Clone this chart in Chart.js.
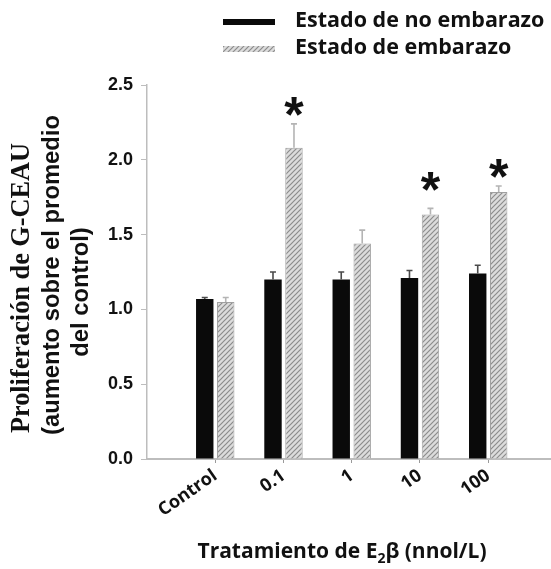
<!DOCTYPE html>
<html>
<head>
<meta charset="utf-8">
<script src="https://cdn.jsdelivr.net/npm/chart.js@4"></script>
<style>
  html, body { margin: 0; padding: 0; background: #fff; overflow: hidden; }
  #wrap { width: 551px; height: 569px; }
</style>
</head>
<body>
<div id="wrap"><canvas id="chart" width="551" height="569"></canvas></div>
<script>
'use strict';

// data
const categories = ['Control', '0.1', '1', '10', '100'];
const seriesNames = ['Estado de no embarazo', 'Estado de embarazo'];
const noPregnant = [1.07, 1.20, 1.20, 1.21, 1.24];
const noPregnantErr = [0.01, 0.05, 0.05, 0.05, 0.055];
const pregnant = [1.05, 2.08, 1.44, 1.635, 1.785];
const pregnantErr = [0.03, 0.16, 0.09, 0.04, 0.04];
// where the significance stars sit (y value), null = none
const starLevel = [null, 2.35, null, 1.85, 1.94];
const yTicks = [0, 0.5, 1.0, 1.5, 2.0, 2.5];

const SANS = '"Liberation Sans", Arial, sans-serif';
const SERIF = '"Liberation Serif", "Times New Roman", serif';
const OPEN = '"Open Sans", "Noto Sans", sans-serif';

function hatchPattern() {
  const s = 5;
  const c = document.createElement('canvas');
  c.width = s; c.height = s;
  const g = c.getContext('2d');
  g.fillStyle = '#dcdcdc';
  g.fillRect(0, 0, s, s);
  g.strokeStyle = '#8c8c8c';
  g.lineWidth = 1.2;
  g.beginPath();
  g.moveTo(-1, s + 1); g.lineTo(s + 1, -1);
  g.moveTo(-1, 1); g.lineTo(1, -1);
  g.moveTo(s - 1, s + 1); g.lineTo(s + 1, s - 1);
  g.stroke();
  return g.createPattern(c, 'repeat');
}

const hatch = hatchPattern();
const errs = [noPregnantErr, pregnantErr];
const errColors = ['#4a4a4a', '#b4b4b4'];

const errorBars = {
  id: 'errorBars',
  afterDatasetsDraw(chart) {
    const ctx = chart.ctx;
    const y = chart.scales.y;
    chart.data.datasets.forEach((ds, i) => {
      const meta = chart.getDatasetMeta(i);
      meta.data.forEach((bar, j) => {
        const top = y.getPixelForValue(ds.data[j].y + errs[i][j]);
        ctx.save();
        ctx.strokeStyle = errColors[i];
        ctx.lineWidth = 1.6;
        ctx.beginPath();
        ctx.moveTo(bar.x, bar.y);
        ctx.lineTo(bar.x, top);
        ctx.moveTo(bar.x - 3, top);
        ctx.lineTo(bar.x + 3, top);
        ctx.stroke();
        if (i === 1 && starLevel[j] != null) {
          ctx.fillStyle = '#111';
          ctx.font = 'bold 50px ' + SANS;
          ctx.textAlign = 'center';
          ctx.textBaseline = 'alphabetic';
          ctx.fillText('*', bar.x, y.getPixelForValue(starLevel[j]) + 25);
        }
        ctx.restore();
      });
    });
  }
};

const decorations = {
  id: 'decorations',
  afterDraw(chart) {
    const ctx = chart.ctx;
    ctx.save();
    // legend
    const fills = ['#0a0a0a', hatch];
    const rowsY = [22, 49];
    ctx.font = 'bold 21.5px ' + OPEN;
    ctx.textBaseline = 'middle';
    ctx.textAlign = 'left';
    seriesNames.forEach((name, i) => {
      ctx.fillStyle = fills[i];
      ctx.fillRect(223, rowsY[i] - 3, 52, 6);
      ctx.fillStyle = '#111';
      ctx.fillText(name, 295, rowsY[i] - 1);
    });

    // y title
    const lines = [
      { t: 'Proliferación de G-CEAU', f: 'bold 26.3px ' + SERIF, x: 22, y: 288 },
      { t: '(aumento sobre el promedio', f: 'bold 23.8px ' + SANS, x: 52, y: 275 },
      { t: 'del control)', f: 'bold 23.8px ' + SANS, x: 81, y: 292 },
    ];
    lines.forEach((l) => {
      ctx.save();
      ctx.translate(l.x, l.y);
      ctx.rotate(-Math.PI / 2);
      ctx.font = l.f;
      ctx.fillStyle = '#111';
      ctx.textAlign = 'center';
      ctx.textBaseline = 'middle';
      ctx.fillText(l.t, 0, 0);
      ctx.restore();
    });

    // x title with subscript
    const big = 'bold 21px ' + OPEN;
    const small = 'bold 14px ' + OPEN;
    const parts = [
      { t: 'Tratamiento de E', f: big, dy: 0 },
      { t: '2', f: small, dy: 5 },
      { t: 'β (nnol/L)', f: big, dy: 0 },
    ];
    let total = 0;
    parts.forEach((p) => { ctx.font = p.f; p.w = ctx.measureText(p.t).width; total += p.w; });
    let x = 342 - total / 2;
    ctx.textAlign = 'left';
    ctx.textBaseline = 'alphabetic';
    ctx.fillStyle = '#111';
    parts.forEach((p) => {
      ctx.font = p.f;
      ctx.fillText(p.t, x, 558 + p.dy);
      x += p.w;
    });
    ctx.restore();
  }
};

new Chart(document.getElementById('chart'), {
  type: 'bar',
  data: {
    datasets: [
      {
        label: seriesNames[0],
        data: noPregnant.map((v, i) => ({ x: i + 1, y: v })),
        backgroundColor: '#0a0a0a',
        borderColor: '#0a0a0a',
        borderWidth: 0,
      },
      {
        label: seriesNames[1],
        data: pregnant.map((v, i) => ({ x: i + 1, y: v })),
        backgroundColor: hatch,
        borderColor: '#a0a0a0',
        borderWidth: 1,
      },
    ],
  },
  options: {
    responsive: false,
    animation: false,
    events: [],
    categoryPercentage: 0.615,
    barPercentage: 0.83,
    layout: { padding: { top: 85, left: 0, right: 0, bottom: 0 } },
    plugins: { legend: { display: false }, tooltip: { enabled: false } },
    scales: {
      x: {
        type: 'linear',
        offset: false,
        min: 0,
        max: 5.92,
        afterFit: (s) => { s.height = 110; },
        afterBuildTicks: (s) => { s.ticks = categories.map((c, i) => ({ value: i + 1 })); },
        border: { display: true, color: '#bdbdbd', width: 2 },
        grid: { offset: false, drawOnChartArea: false, drawTicks: true, tickLength: 4, color: '#9a9a9a' },
        ticks: {
          minRotation: 35,
          maxRotation: 35,
          padding: 2,
          color: '#111',
          font: { family: OPEN, weight: 'bold', size: 18 },
          callback: (v) => categories[v - 1] || '',
        },
      },
      y: {
        min: 0,
        max: 2.5,
        afterFit: (s) => { s.width = 147; },
        afterBuildTicks: (s) => { s.ticks = yTicks.map((v) => ({ value: v })); },
        border: { display: true, color: '#bdbdbd', width: 1.5 },
        grid: { drawOnChartArea: false, drawTicks: true, tickLength: 6, color: '#bdbdbd' },
        ticks: {
          padding: 8,
          color: '#111',
          font: { family: SANS, weight: 'bold', size: 18 },
          callback: (v) => v.toFixed(1),
        },
      },
    },
  },
  plugins: [errorBars, decorations],
});
</script>
</body>
</html>
